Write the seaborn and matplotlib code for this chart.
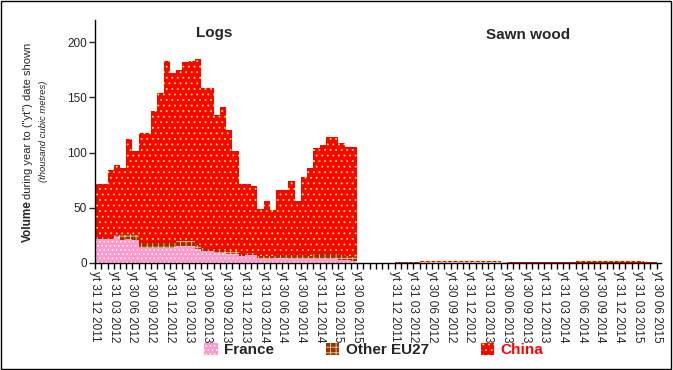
import numpy as np
import pandas as pd
import seaborn as sns
import matplotlib.pyplot as plt
from matplotlib.patches import Patch, Rectangle

tick_labels = ["yt 31 12 2011", "yt 31 03 2012", "yt 30 06 2012", "yt 30 09 2012",
               "yt 31 12 2012", "yt 31 03 2013", "yt 30 06 2013", "yt 30 09 2013",
               "yt 31 12 2013", "yt 31 03 2014", "yt 30 06 2014", "yt 30 09 2014",
               "yt 31 12 2014", "yt 31 03 2015", "yt 30 06 2015"]
series = ["France", "Other EU27", "China"]
colors = {"France": "#ff99cc", "Other EU27": "#993300", "China": "#ff0000"}
hatch_col = {"France": "white", "Other EU27": "#f0d0b0", "China": "#ffff00"}
hatches = {"France": "....", "Other EU27": "+++", "China": "..."}

# logs, monthly bars (thousand m3)
logs_france = [22, 22, 21.5, 23.5, 21, 21.5, 20.5, 13.5, 13.5, 14, 13.5, 13.5, 13.5, 15.5,
               15.5, 15, 13, 11, 10.5, 9, 9, 8.5, 8, 6.5, 7, 7, 4, 4, 4, 4.5, 4.5, 4, 4, 4,
               3.5, 3.5, 3.5, 3.5, 3.5, 3, 2.5, 2]
logs_other = [1.5, 1.5, 1.5, 2, 4.5, 5, 5, 4.5, 4.5, 4.5, 4.5, 4.5, 4.5, 4.5, 4.5, 4.5, 3,
              2.5, 2.5, 2.5, 2.5, 2.5, 2.5, 2, 2, 2, 2.5, 2.5, 2.5, 3, 3, 3, 3, 3, 3, 4.5,
              4.5, 4.5, 4.5, 4.5, 3.5, 3.5]
logs_china = [47.9, 47.9, 61, 63.1, 60.3, 85.5, 75.7, 99.5, 99.5, 118.8, 135.6, 164.5,
              153.7, 154.4, 161.6, 163, 168.3, 144.5, 145, 122.2, 129.5, 109.2, 90.7, 62.9,
              62.4, 60.6, 42.6, 49.5, 41.4, 58.5, 58.5, 67.1, 49, 70.7, 79.3, 95.9, 98.6,
              105.9, 105.9, 100.9, 98.8, 99.3]

# sawn wood
sawn_france = [0, 0, 0, 0, 0.9, 0.9, 0.9, 0.9, 0.9, 0.9, 0.9, 0.9, 0.9, 0.9, 0.9, 0.9, 0.9,
               0.9, 0, 0, 0, 0, 0, 0, 0, 0, 0, 0, 0, 0, 0, 0, 0, 0, 0, 0, 0, 0, 0, 0, 0, 0]
sawn_other = [0.9, 0.9, 0.9, 0.9, 0, 0, 0, 0, 0, 0, 0, 0, 0, 0, 0, 0, 0, 0, 0, 0, 0, 0, 0,
              0, 0, 0, 0, 0, 0, 0, 0, 0, 0, 0, 0, 0, 0, 0, 0, 0, 0, 0]
sawn_china = [0, 0, 0, 0, 0.9, 0.9, 0.9, 0.9, 0.9, 0.9, 0.9, 0.9, 0.9, 0.9, 0.9, 0.9, 0.9,
              0, 0.9, 0.9, 0.9, 0.9, 0.9, 0.9, 0.9, 0.9, 0.9, 0.9, 0.9, 1.8, 1.8, 1.8, 1.8,
              1.8, 1.8, 1.8, 1.8, 1.8, 1.8, 1.8, 0.9, 0.9]

n = len(logs_france)
gap = 6
pos = np.concatenate([np.arange(n), np.arange(n) + n + gap])
vals = {
    "France": logs_france + sawn_france,
    "Other EU27": logs_other + sawn_other,
    "China": logs_china + sawn_china,
}

sns.set_style("ticks")
plt.rcParams["font.family"] = ["Liberation Sans", "DejaVu Sans"]
plt.rcParams["hatch.linewidth"] = 0.6

fig = plt.figure(figsize=(6.73, 3.70), dpi=100)
ax = fig.add_axes([0.1412, 0.2892, 0.8405, 0.6567])

bottom = np.zeros(len(pos))
for s in series:
    df = pd.DataFrame({"pos": pos, "value": vals[s]})
    sns.barplot(data=df, x="pos", y="value", native_scale=True, width=1, errorbar=None,
                bottom=bottom.copy(), color=colors[s], edgecolor=hatch_col[s],
                hatch=hatches[s], linewidth=0, saturation=1, ax=ax)
    bottom += np.array(vals[s])

ax.set_xlim(-0.5, 90.15)
ax.set_ylim(0, 220)
ax.set_yticks([0, 50, 100, 150, 200])
ax.set_xlabel("")
ax.set_ylabel("")
sns.despine(ax=ax)
for sp in ["left", "bottom"]:
    ax.spines[sp].set_linewidth(1)
    ax.spines[sp].set_color("black")

label_pos = list(np.arange(0, n + 1, 3) - 0.5) + list(np.arange(0, n + 1, 3) + n + gap - 0.5)
ax.set_xticks(label_pos)
ax.set_xticklabels(tick_labels + tick_labels, rotation=270, fontsize=8.5)
ax.set_xticks(np.arange(-0.5, 90.2, 1), minor=True)
ax.tick_params(axis="x", which="both", length=4, width=1, color="black", pad=2)
ax.tick_params(axis="y", length=4, width=1, labelsize=8.5, pad=2)

fig.text(0.318, 0.911, "Logs", ha="center", va="center", fontsize=11, fontweight="bold")
fig.text(0.785, 0.905, "Sawn wood", ha="center", va="center", fontsize=11, fontweight="bold")

# y label: bold word then regular text, second line italic
vol = fig.text(0.042, 1 - 242 / 370, "Volume", rotation=90, ha="center", va="bottom",
               fontsize=8.5, fontweight="bold")
fig.canvas.draw()
ext = vol.get_window_extent().transformed(fig.transFigure.inverted())
fig.text(0.042, ext.y1 + 0.004, "during year to (\"yt\") date shown", rotation=90,
         ha="center", va="bottom", fontsize=8)
fig.text(0.064, 1 - 131.5 / 370, "(thousand cubic metres)", rotation=90, ha="center",
         va="center", fontsize=6.8, style="italic")

handles = [Patch(facecolor=colors[s], edgecolor=hatch_col[s], hatch=hatches[s], linewidth=0)
           for s in series]
leg = fig.legend(handles, series, loc="center", bbox_to_anchor=(0.555, 0.054), ncol=3,
                 frameon=False, handlelength=0.9, handleheight=0.9,
                 handletextpad=0.4, columnspacing=3.4, prop={"weight": "bold", "size": 11})
leg.get_texts()[2].set_color("red")

fig.patches.append(Rectangle((0.001, 0.002), 0.996, 0.995, transform=fig.transFigure,
                             fill=False, edgecolor="black", linewidth=1))

plt.savefig("out.png", dpi=100)
